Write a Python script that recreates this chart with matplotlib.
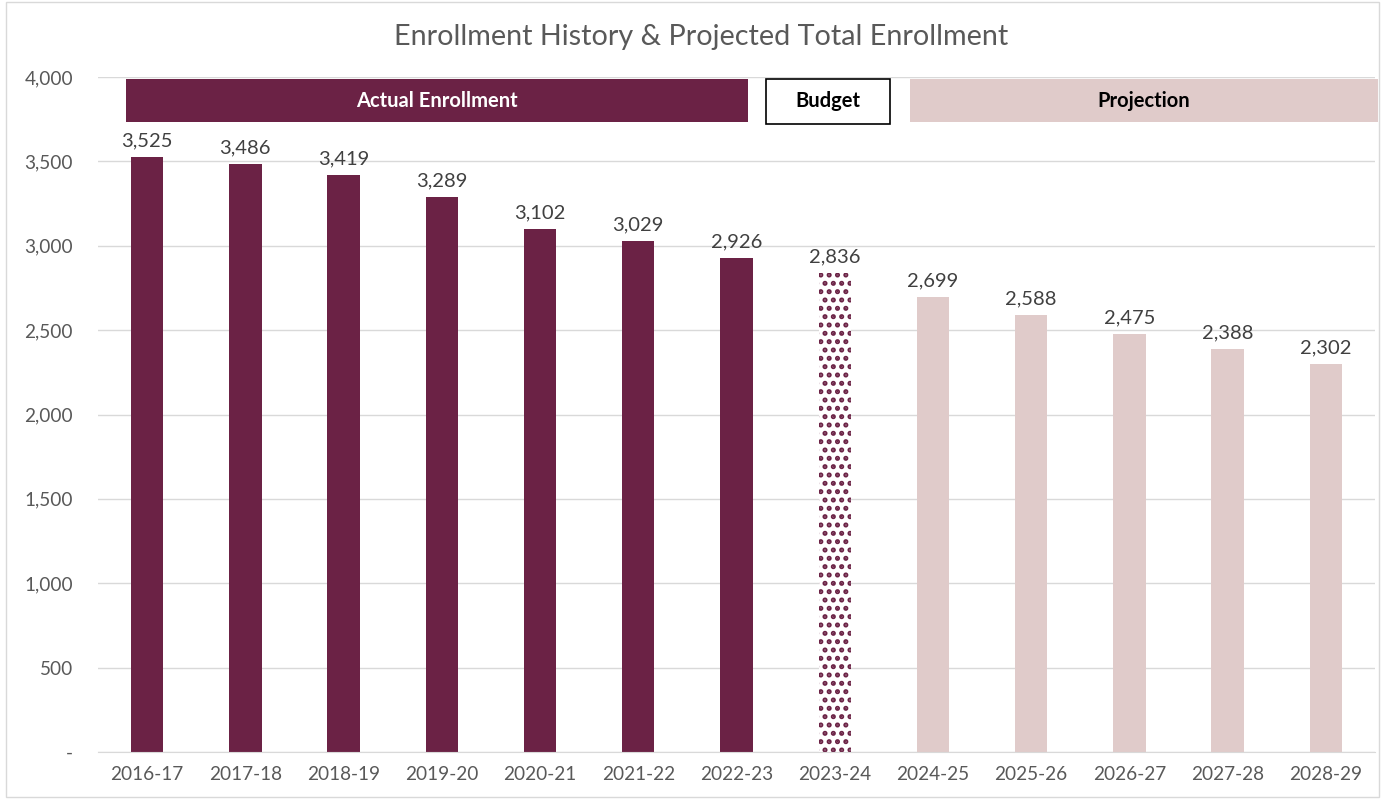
import numpy as np
import matplotlib
matplotlib.use("Agg")
import matplotlib.pyplot as plt
from matplotlib.patches import Rectangle

plt.rcParams['font.family'] = ['Lato', 'DejaVu Sans']
plt.rcParams['hatch.linewidth'] = 2.4

years = ['2016-17', '2017-18', '2018-19', '2019-20', '2020-21', '2021-22', '2022-23',
         '2023-24', '2024-25', '2025-26', '2026-27', '2027-28', '2028-29']
enrollment = [3525, 3486, 3419, 3289, 3102, 3029, 2926, 2836, 2699, 2588, 2475, 2388, 2302]
kind = ['actual'] * 7 + ['budget'] + ['projection'] * 5

maroon = '#6B2245'
pink = '#E0CBCA'
grid_col = '#D9D9D9'
text_col = '#595959'

fig = plt.figure(figsize=(13.83, 7.99), dpi=100)
ax = fig.add_axes([98 / 1383, 1 - 752 / 799, 1277 / 1383, 675 / 799])

x = np.arange(len(years))
for i, (v, k) in enumerate(zip(enrollment, kind)):
    if k == 'actual':
        ax.bar(i, v, width=0.33, color=maroon, zorder=2)
    elif k == 'budget':
        ax.bar(i, v, width=0.33, color='white', edgecolor=maroon, hatch='..', linewidth=0, zorder=2)
    else:
        ax.bar(i, v, width=0.33, color=pink, zorder=2)
    ax.text(i, v + 45, f'{v:,}', ha='center', va='bottom', fontsize=14.5, color='#404040')

# banners
y0, y1 = 3733, 3988
ax.add_patch(Rectangle((-0.21, y0), 6.33, y1 - y0, facecolor=maroon, edgecolor='none', zorder=3, clip_on=False))
ax.text((-0.21 + 6.12) / 2, (y0 + y1) / 2, 'Actual Enrollment', ha='center', va='center',
        color='white', fontsize=14.5, fontweight='bold', zorder=4)
ax.add_patch(Rectangle((6.30, y0 - 10), 1.26, y1 - y0 + 10, facecolor='white', edgecolor='black', lw=1.2, zorder=3, clip_on=False))
ax.text(6.93, (y0 + y1) / 2, 'Budget', ha='center', va='center',
        color='black', fontsize=14.5, fontweight='bold', zorder=4)
ax.add_patch(Rectangle((7.77, y0), 4.76, y1 - y0, facecolor=pink, edgecolor='none', zorder=3, clip_on=False))
ax.text((7.77 + 12.53) / 2, (y0 + y1) / 2, 'Projection', ha='center', va='center',
        color='black', fontsize=14.5, fontweight='bold', zorder=4)

ax.set_xlim(-0.5, len(years) - 0.5)
ax.set_ylim(0, 4000)
ax.set_xticks(x)
ax.set_xticklabels(years)
yt = np.arange(0, 4001, 500)
ax.set_yticks(yt)
ax.set_yticklabels(['-' if t == 0 else f'{t:,}' for t in yt])
ax.tick_params(axis='both', length=0, labelsize=13.7, colors=text_col)
ax.tick_params(axis='y', pad=18)
ax.tick_params(axis='x', pad=10)
ax.yaxis.grid(True, color=grid_col, lw=1, zorder=0)
ax.set_axisbelow(True)
for s in ['top', 'right', 'left']:
    ax.spines[s].set_visible(False)
ax.spines['bottom'].set_color(grid_col)

fig.text(701 / 1383, 1 - 37 / 799, 'Enrollment History & Projected Total Enrollment',
         ha='center', va='center', fontsize=20.7, color=text_col)

fig.patches.append(Rectangle((0.004, 0.002), 0.993, 0.995, transform=fig.transFigure,
                             fill=False, edgecolor=grid_col, lw=1))

fig.savefig('out.png', dpi=100)
